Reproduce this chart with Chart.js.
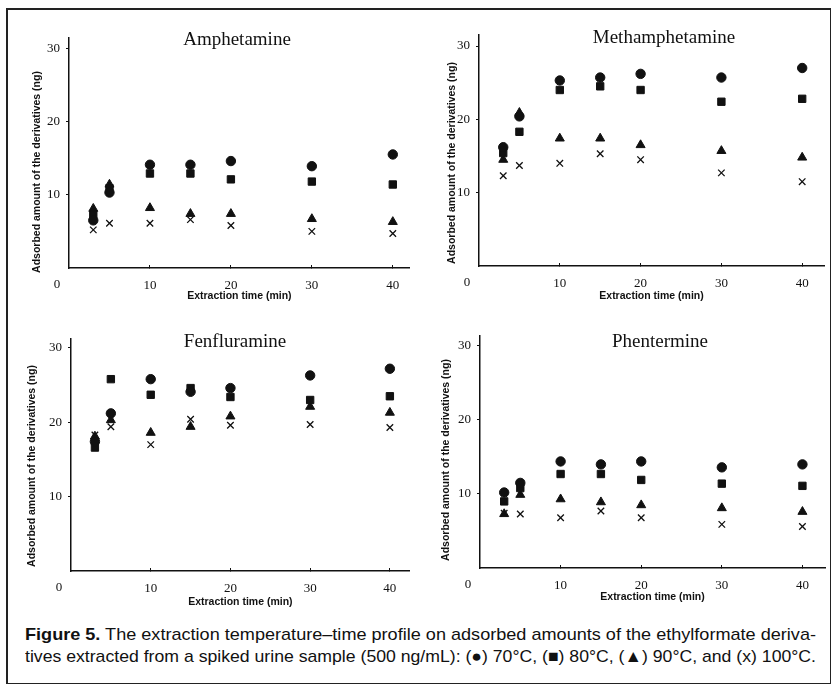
<!DOCTYPE html>
<html>
<head>
<meta charset="utf-8">
<script src="https://cdn.jsdelivr.net/npm/chart.js@4/dist/chart.umd.min.js"></script>
<style>
  body { margin: 0; background: #fff; }
  #page { position: relative; width: 832px; height: 690px; overflow: hidden; }
  #frame { position: absolute; left: 6px; top: 8px; width: 825px; height: 676px;
           border: 1.5px solid #222; border-left-width: 2px; border-top-width: 2px; box-sizing: border-box; }
  .panel { position: absolute; width: 416px; height: 310px; }
  .caption { position: absolute; left: 25px; white-space: nowrap; transform-origin: 0 0;
             font-family: "Liberation Sans Narrow", "Liberation Sans", sans-serif;
             font-size: 17px; line-height: 22px; color: #111; }
  .caption b { font-weight: bold; }
</style>
</head>
<body>
<div id="page">
  <div id="frame"></div>
  <div class="panel" style="left:0;top:0"><canvas id="c1" width="416" height="310"></canvas></div>
  <div class="panel" style="left:416px;top:0"><canvas id="c2" width="416" height="310"></canvas></div>
  <div class="panel" style="left:0;top:310px"><canvas id="c3" width="416" height="310"></canvas></div>
  <div class="panel" style="left:416px;top:310px"><canvas id="c4" width="416" height="310"></canvas></div>
  <div class="caption" id="cap1" style="top:624px"><b>Figure 5.</b> The extraction temperature–time profile on adsorbed amounts of the ethylformate deriva-</div>
  <div class="caption" id="cap2" style="top:646px">tives extracted from a spiked urine sample (500 ng/mL): (●) 70°C, (■) 80°C, (▲) 90°C, and (x) 100°C.</div>
</div>
<script>
// extraction times (min)
const times = [3, 5, 10, 15, 20, 30, 40];
const xTicks = [10, 20, 30, 40];
const yTicks = [10, 20, 30];

// adsorbed amounts (ng) at 70, 80, 90 and 100 °C
const amphetamine70 = [6.5, 10.3, 14.1, 14.1, 14.6, 13.9, 15.5];
const amphetamine80 = [7.3, 10.9, 12.9, 12.9, 12.1, 11.8, 11.4];
const amphetamine90 = [8.1, 11.4, 8.2, 7.4, 7.4, 6.7, 6.3];
const amphetamine100 = [5.2, 6.1, 6.1, 6.6, 5.8, 5.0, 4.7];

const methamphetamine70 = [16.2, 20.4, 25.3, 25.7, 26.2, 25.7, 27.0];
const methamphetamine80 = [15.4, 18.3, 24.0, 24.5, 24.0, 22.4, 22.8];
const methamphetamine90 = [14.5, 20.9, 17.4, 17.4, 16.5, 15.7, 14.8];
const methamphetamine100 = [12.3, 13.7, 14.0, 15.3, 14.5, 12.7, 11.5];

const fenfluramine70 = [17.4, 21.2, 25.8, 24.1, 24.6, 26.3, 27.2];
const fenfluramine80 = [16.6, 25.8, 23.7, 24.6, 23.4, 23.0, 23.5];
const fenfluramine90 = [18.1, 20.3, 18.6, 19.4, 20.8, 22.1, 21.3];
const fenfluramine100 = [18.3, 19.4, 17.0, 20.4, 19.6, 19.7, 19.3];

const phentermine70 = [10.2, 11.5, 14.4, 14.0, 14.4, 13.6, 14.0];
const phentermine80 = [9.0, 10.8, 12.7, 12.7, 11.9, 11.4, 11.1];
const phentermine90 = [7.3, 9.9, 9.3, 8.9, 8.5, 8.1, 7.6];
const phentermine100 = [7.4, 7.3, 6.8, 7.7, 6.8, 5.9, 5.6];

const temps = ['70°C', '80°C', '90°C', '100°C'];
const markers = [
  { pointStyle: 'circle', radius: 4.7 },
  { pointStyle: 'rect', radius: 5.2 },
  { pointStyle: 'triangle', radius: 5.2 },
  { pointStyle: 'crossRot', radius: 4.6 }
];

// panel layout (chart area inside each 416x310 canvas)
const panels = [
  { canvas: 'c1', name: 'Amphetamine', series: [amphetamine70, amphetamine80, amphetamine90, amphetamine100],
    area: { l: 69, t: 38, r: 410, b: 268 }, yMax: 31.4, xMax: 42.1, titleX: 237, titleY: 40, yTitle: [37, 172], xTitlePad: 8 },
  { canvas: 'c2', name: 'Methamphetamine', series: [methamphetamine70, methamphetamine80, methamphetamine90, methamphetamine100],
    area: { l: 63, t: 35, r: 408, b: 266 }, yMax: 31.5, xMax: 42.7, titleX: 248, titleY: 38, yTitle: [36, 163], xTitlePad: 8 },
  { canvas: 'c3', name: 'Fenfluramine', series: [fenfluramine70, fenfluramine80, fenfluramine90, fenfluramine100],
    area: { l: 71, t: 29, r: 414, b: 261 }, yMax: 31.2, xMax: 42.5, titleX: 235, titleY: 32, yTitle: [32, 156], xTitlePad: 12 },
  { canvas: 'c4', name: 'Phentermine', series: [phentermine70, phentermine80, phentermine90, phentermine100],
    area: { l: 64, t: 26, r: 409, b: 258 }, yMax: 31.35, xMax: 42.8, titleX: 244, titleY: 32, yTitle: [30, 150], xTitlePad: 17 }
];

const ink = '#111';
const serif = '"Liberation Serif", "Times New Roman", serif';
const sans = '"Liberation Sans", Arial, sans-serif';

// panel name, y axis title and the shared "0" at the origin
const panelText = {
  id: 'panelText',
  afterDraw(chart, args, opts) {
    const ctx = chart.ctx;
    const a = chart.chartArea;
    ctx.save();
    ctx.fillStyle = ink;
    ctx.textAlign = 'center';
    ctx.textBaseline = 'middle';
    ctx.font = '19px ' + serif;
    ctx.fillText(opts.title, opts.titleX, opts.titleY);
    ctx.font = '13px ' + serif;
    ctx.fillText('0', a.left - 12, a.bottom + 17);
    ctx.translate(opts.yTitle[0], opts.yTitle[1]);
    ctx.rotate(-Math.PI / 2);
    ctx.font = 'bold 10.5px ' + sans;
    ctx.fillText('Adsorbed amount of the derivatives (ng)', 0, 0);
    ctx.restore();
  }
};

function hideZero(ctx) {
  return ctx.tick && ctx.tick.value === 0 ? 'rgba(0,0,0,0)' : ink;
}

panels.forEach(p => {
  const W = 416, H = 310;
  const datasets = p.series.map((vals, i) => ({
    label: temps[i],
    data: vals.map((v, j) => ({ x: times[j], y: v })),
    showLine: false,
    pointStyle: markers[i].pointStyle,
    pointRadius: markers[i].radius,
    pointBackgroundColor: ink,
    pointBorderColor: ink,
    pointBorderWidth: markers[i].pointStyle === 'crossRot' ? 1.3 : 1
  }));

  new Chart(document.getElementById(p.canvas), {
    type: 'scatter',
    data: { datasets },
    plugins: [panelText],
    options: {
      responsive: false,
      animation: false,
      layout: { padding: { left: 0, top: p.area.t, right: W - p.area.r, bottom: 0 } },
      plugins: {
        legend: { display: false },
        tooltip: { enabled: false },
        panelText: { title: p.name, titleX: p.titleX, titleY: p.titleY, yTitle: p.yTitle }
      },
      scales: {
        x: {
          type: 'linear',
          min: 0,
          max: p.xMax,
          afterFit: s => { s.height = H - p.area.b; },
          afterBuildTicks: s => { s.ticks = [0].concat(xTicks).map(v => ({ value: v })); },
          border: { color: ink, width: 1.5 },
          grid: { drawOnChartArea: false, tickLength: -3, tickWidth: 1, color: hideZero },
          ticks: {
            padding: 13,
            maxRotation: 0,
            color: ink,
            font: { family: serif, size: 13 },
            callback: v => (v === 0 ? '' : v)
          },
          title: {
            display: true,
            text: 'Extraction time (min)',
            color: ink,
            font: { family: sans, size: 10.5, weight: 'bold' },
            padding: { top: 0, bottom: p.xTitlePad }
          }
        },
        y: {
          type: 'linear',
          min: 0,
          max: p.yMax,
          afterFit: s => { s.width = p.area.l; },
          afterBuildTicks: s => { s.ticks = [0].concat(yTicks).map(v => ({ value: v })); },
          border: { color: ink, width: 1.5 },
          grid: { drawOnChartArea: false, tickLength: 3, tickWidth: 1, color: hideZero },
          ticks: {
            padding: 6,
            color: ink,
            font: { family: serif, size: 13 },
            callback: v => (v === 0 ? '' : v)
          }
        }
      }
    }
  });
});

// stretch caption lines to the measured text width
['cap1', 'cap2'].forEach(id => {
  const el = document.getElementById(id);
  const w = el.getBoundingClientRect().width;
  el.style.transform = 'scaleX(' + (791 / w) + ')';
});
</script>
</body>
</html>
